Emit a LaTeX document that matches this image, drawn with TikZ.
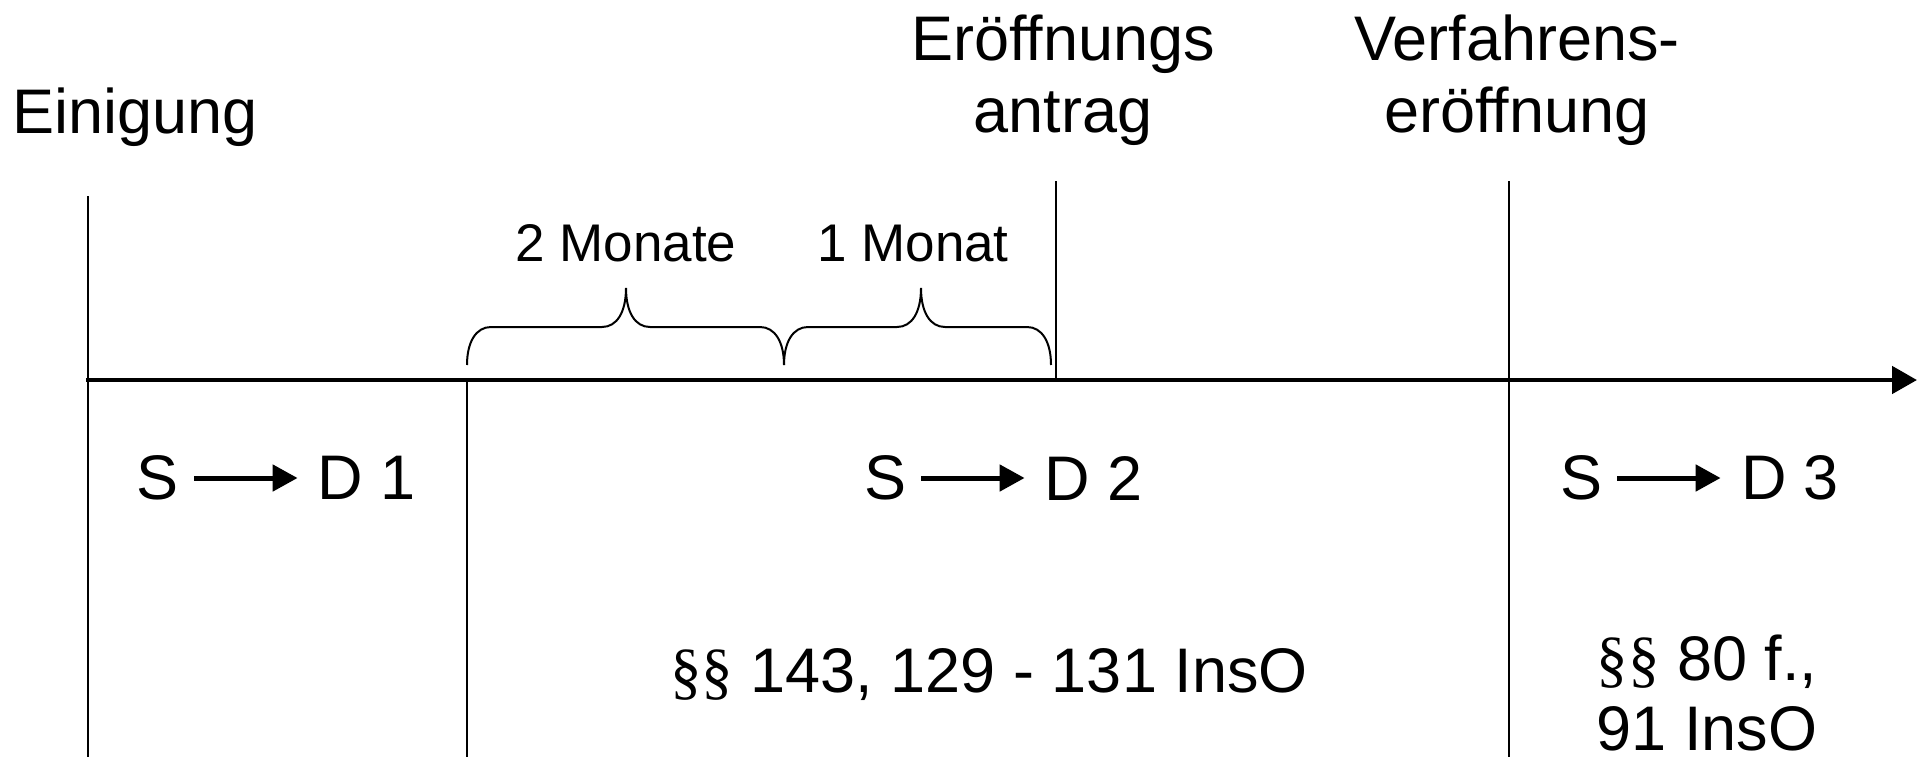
\documentclass[tikz,border=0pt]{standalone}
\usepackage{fontspec}
\setmainfont{Liberation Sans}
\newfontfamily\paraserif{Liberation Serif}
\usetikzlibrary{arrows.meta}

% curly brace lying above the time axis: #1 left end, #2 tip, #3 right end
\newcommand\timebrace[3]{%
  \draw[bracket] (#1,365) .. controls (#1,342) and (#1+9,327) .. (#1+24,327)
    -- (#2-24,327) .. controls (#2-9,327) and (#2,312) .. (#2,288)
    .. controls (#2,312) and (#2+9,327) .. (#2+24,327)
    -- (#3-24,327) .. controls (#3-9,327) and (#3,342) .. (#3,365);}

\begin{document}
\begin{tikzpicture}[x=0.5pt,y=-0.5pt,
  big/.style={font=\fontsize{31.5}{36}\selectfont, inner sep=0pt, align=center},
  small/.style={font=\fontsize{26.5}{30}\selectfont, inner sep=0pt},
  tick/.style={line width=1pt},
  bracket/.style={line width=1pt},
  axis/.style={line width=2.4pt, -{Triangle[length=12.5pt,width=13.5pt]}},
  flow/.style={line width=2.5pt, -{Triangle[length=12.5pt,width=13pt]},
               shorten <=7.5pt, shorten >=10pt},
]
\useasboundingbox (0,0) rectangle (1921,760);

% time axis
\coordinate (axstart) at (86,380);
\coordinate (axend) at (1917,380);
\draw[axis] (axstart) -- (axend);

% markers on the time axis
\draw[tick] (88,196) -- (88,757);
\draw[tick] (467,380) -- (467,757);
\draw[tick] (1056,181) -- (1056,380);
\draw[tick] (1509,181) -- (1509,757);

% events (base anchor sits on the last line)
\node[big, anchor=base] (einigung) at (135,133) {Einigung};
\node[big, anchor=base] (antrag) at (1063,132) {Eröffnungs\\antrag};
\node[big, anchor=base] (eroeffnung) at (1517,132) {Verfahrens-\\eröffnung};

% periods before the petition
\timebrace{467}{626}{784}
\timebrace{784}{921}{1051}
\node[small, anchor=base] (zwei) at (626,261) {2 Monate};
\node[small, anchor=base] (eins) at (913,261) {1 Monat};

% transfers
\node[big] (s1) at (158,478) {S};
\node[big] (d1) at (367,478) {D 1};
\draw[flow] (s1.east) -- (d1.west);
\node[big] (s2) at (885,478) {S};
\node[big] (d2) at (1094,478) {D 2};
\draw[flow] (s2.east) -- (d2.west);
\node[big] (s3) at (1581,478) {S};
\node[big] (d3) at (1790,478) {D 3};
\draw[flow] (s3.east) -- (d3.west);

% legal provisions
\node[big, anchor=base] (anfechtung) at (989,692) {{\paraserif §§} 143, 129 - 131 InsO};
\node[big, anchor=base, font=\fontsize{31.5}{35}\selectfont] (wirkung) at (1707,750)
  {{\paraserif §§} 80 f.,\\91 InsO};
\end{tikzpicture}
\end{document}
